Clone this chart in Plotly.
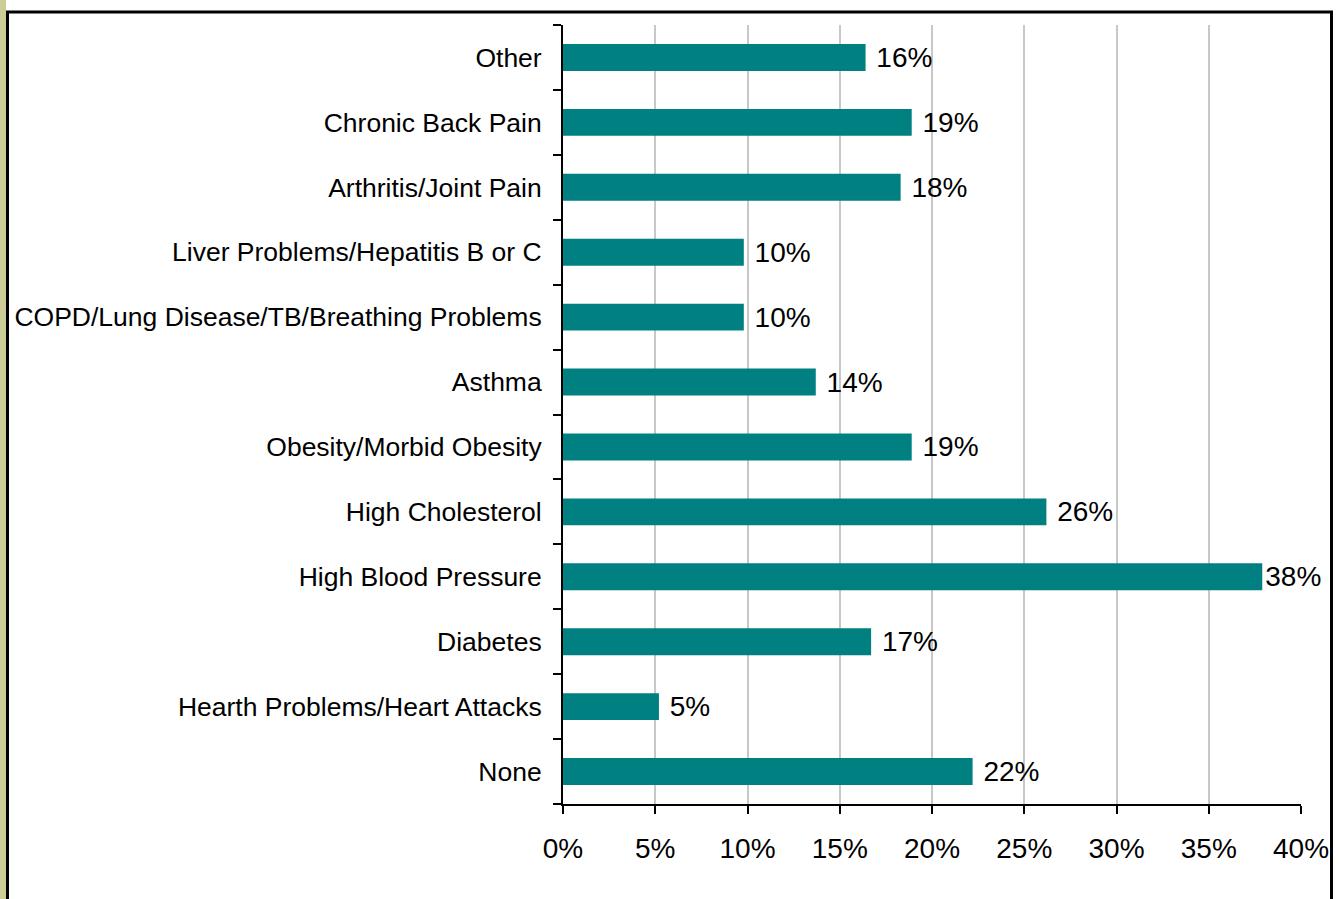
import plotly.graph_objects as go

categories = ["None", "Hearth Problems/Heart Attacks", "Diabetes", "High Blood Pressure",
              "High Cholesterol", "Obesity/Morbid Obesity", "Asthma",
              "COPD/Lung Disease/TB/Breathing Problems", "Liver Problems/Hepatitis B or C",
              "Arthritis/Joint Pain", "Chronic Back Pain", "Other"]
values = [0.222, 0.052, 0.167, 0.379, 0.262, 0.189, 0.137, 0.098, 0.098, 0.183, 0.189, 0.164]
labels = ["22%", "5%", "17%", "38%", "26%", "19%", "14%", "10%", "10%", "18%", "19%", "16%"]
x_ticks = [0, 0.05, 0.10, 0.15, 0.20, 0.25, 0.30, 0.35, 0.40]
x_tick_labels = ["0%", "5%", "10%", "15%", "20%", "25%", "30%", "35%", "40%"]

W, H = 1340, 899
L, R, T, B = 563, 39, 24.5, 94.5
pw, ph = W - L - R, H - T - B

def px_x(p):
    return (p - L) / pw

def px_y(p):
    return (H - B - p) / ph

FONT = "Liberation Sans, Arial, sans-serif"

# labels near the axis end sit flush against the bar; others get a small gap
templates = ["%{text}" if v > 0.35 else "\u00a0%{text}" for v in values]

fig = go.Figure(go.Bar(
    x=values, y=categories, orientation="h",
    marker=dict(color="#008080", line=dict(width=0)),
    width=0.415,
    text=labels, texttemplate=templates,
    textposition="outside", constraintext="none", cliponaxis=False,
    textfont=dict(family=FONT, size=28, color="black"),
    hoverinfo="skip",
))

fig.update_layout(
    width=W, height=H,
    margin=dict(l=L, r=R, t=T, b=B, pad=0),
    paper_bgcolor="white", plot_bgcolor="white",
    showlegend=False,
    font=dict(family=FONT, color="black"),
    xaxis=dict(
        range=[0, 0.40], tickvals=x_ticks, ticktext=x_tick_labels,
        showgrid=True, gridcolor="#c8c8c8", gridwidth=2,
        showline=True, linecolor="black", linewidth=2,
        ticks="outside", ticklen=8, tickwidth=2, tickcolor="black",
        tickfont=dict(family=FONT, size=28, color="black"),
        ticklabelstandoff=10,
        zeroline=False, fixedrange=True,
    ),
    yaxis=dict(
        type="category", categoryorder="array", categoryarray=categories,
        range=[-0.5, len(categories) - 0.5],
        showline=True, linecolor="black", linewidth=2,
        ticks="outside", ticklen=8, tickwidth=2, tickcolor="black",
        tickson="boundaries",
        tickfont=dict(family=FONT, size=26.5, color="black"),
        ticklabelstandoff=14,
        showgrid=False, zeroline=False, fixedrange=True,
    ),
    shapes=[
        dict(type="rect", xref="paper", yref="paper",
             x0=px_x(0), x1=px_x(6), y0=px_y(H + 10), y1=px_y(-10),
             fillcolor="#cccc99", line=dict(width=0), layer="above"),
        dict(type="rect", xref="paper", yref="paper",
             x0=px_x(7.5), x1=px_x(1331.5), y0=px_y(H + 20), y1=px_y(11.5),
             fillcolor="rgba(0,0,0,0)", line=dict(color="black", width=3), layer="above"),
    ],
)

fig.write_html("out.html", config={"displayModeBar": False},
               post_script="document.body.style.margin='0px';document.body.style.overflow='hidden';")
